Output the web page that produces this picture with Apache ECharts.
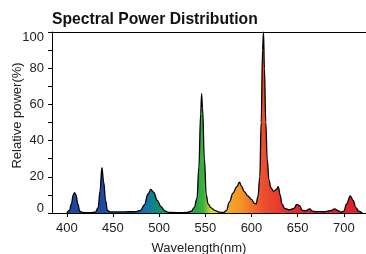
<!DOCTYPE html>
<html>
<head>
<meta charset="utf-8">
<script src="https://cdn.jsdelivr.net/npm/echarts@6/dist/echarts.min.js"></script>
<style>
  html, body { margin: 0; padding: 0; background: #fff; }
  #chart { width: 366px; height: 254px; }
</style>
</head>
<body>
<div id="chart"></div>
<script>
// wavelength (nm) and relative power (%)
var wavelengths = [
  400, 403, 405, 407, 408.5, 410, 412, 414, 417, 425, 431, 434, 436, 438, 440, 442, 444, 447,
  460, 475, 480, 484, 488, 491, 494, 498, 502, 506, 510, 520, 530, 535,
  538, 541, 543, 545, 546, 547, 549, 551, 553, 556, 560, 565, 570,
  573, 576, 580, 584, 587, 589, 592, 596, 600, 603, 605,
  607, 609, 610.5, 612, 613, 614, 615.5, 617, 619, 621, 624, 627, 629, 631, 633, 636,
  641, 646, 649, 652, 655, 659, 663, 666, 670, 680, 687, 690, 693, 697,
  700, 703, 707, 710, 713, 716, 720
];
var power = [
  0.2, 1.5, 5, 10, 11.3, 10, 5, 1, 0.3, 0.2, 0.5, 3, 12, 25, 17, 7, 1.5, 0.6,
  0.6, 0.8, 1.5, 4.5, 10.5, 13, 11.5, 7, 3.5, 1.2, 0.4, 0.2, 0.3, 1,
  3, 8, 25, 55, 66, 58, 30, 10, 5, 3, 1.5, 0.5, 0.3,
  1.5, 6, 11, 14.5, 17, 15, 12, 9.5, 7.5, 5.5, 5,
  9, 20, 50, 90, 100, 80, 50, 30, 18, 14, 12, 13, 14.5, 10, 5, 2.5,
  1.8, 2.5, 4.8, 4, 1.5, 1.2, 2.3, 1, 0.8, 0.8, 1.5, 2.3, 1.5, 0.5,
  1, 5, 9.5, 7, 3, 1, 0
];
var xTicks = [400, 450, 500, 550, 600, 650, 700];

// spectrum colours by wavelength
var specNm = [400, 445, 470, 485, 492, 500, 515, 540, 548, 553, 558, 565, 575, 590, 603, 612, 625, 640, 660, 720];
var specColor = ['#1b48a0', '#1b4da3', '#1760a8', '#1670b0', '#0f8090', '#10906a', '#18a050', '#22aa48', '#40b040',
  '#a0c838', '#e8d828', '#f0c020', '#f5a828', '#f49028', '#f06a2c', '#ec5030', '#e8402e', '#e42e30', '#e0242e', '#dc2030'];

var wMin = wavelengths[0], wMax = wavelengths[wavelengths.length - 1];
var stops = specNm.map(function (w, i) {
  return { offset: (w - wMin) / (wMax - wMin), color: specColor[i] };
});

var font = 'Liberation Sans, Arial, Helvetica, sans-serif';
var chart = echarts.init(document.getElementById('chart'));
chart.setOption({
  animation: false,
  title: {
    text: 'Spectral Power Distribution',
    left: 47,
    top: 7,
    textStyle: { fontFamily: font, fontSize: 15.7, fontWeight: 'bold', color: '#111' }
  },
  grid: { left: 52, top: 32, right: 0, bottom: 41, outerBoundsMode: 'none', containLabel: false },
  xAxis: [
    {
      type: 'value',
      min: 384,
      max: 724,
      name: 'Wavelength(nm)',
      nameLocation: 'middle',
      nameGap: 29,
      nameTextStyle: { fontFamily: font, fontSize: 13, color: '#222', padding: [0, 20, 0, 0] },
      axisLine: { lineStyle: { color: '#000', width: 1 } },
      axisTick: { show: true, length: 4, inside: false, customValues: xTicks, lineStyle: { color: '#000' } },
      axisLabel: { customValues: xTicks, fontFamily: font, fontSize: 13, color: '#222', margin: 9 },
      splitLine: { show: false }
    },
    {
      type: 'value',
      position: 'top',
      min: 384,
      max: 724,
      axisLine: { show: true, lineStyle: { color: '#000', width: 1 } },
      axisTick: { show: false },
      axisLabel: { show: false },
      splitLine: { show: false }
    }
  ],
  yAxis: {
    type: 'value',
    min: 0,
    max: 100,
    interval: 10,
    name: 'Relative power(%)',
    nameLocation: 'middle',
    nameGap: 28,
    nameMoveOverlap: false,
    nameTextStyle: { fontFamily: font, fontSize: 13, color: '#222', padding: [0, 0, 0, 14] },
    axisLine: { show: true, lineStyle: { color: '#000', width: 1 } },
    axisTick: { show: true, length: 4, inside: false, lineStyle: { color: '#000' } },
    axisLabel: {
      fontFamily: font, fontSize: 13, color: '#222', margin: 8,
      formatter: function (v) {
        if (v % 20 !== 0) return '';
        if (v === 0) return '{lo|0}';
        if (v === 100) return '{hi|100}';
        return String(v);
      },
      rich: {
        lo: { fontFamily: font, fontSize: 13, color: '#222', padding: [0, 0, 9, 0] },
        hi: { fontFamily: font, fontSize: 13, color: '#222', padding: [11, 0, 0, 0] }
      }
    },
    splitLine: { show: false }
  },
  series: [{
    type: 'line',
    data: wavelengths.map(function (w, i) { return [w, power[i]]; }),
    smooth: 0.4,
    smoothMonotone: 'x',
    showSymbol: false,
    lineStyle: { color: '#000', width: 1.3 },
    areaStyle: {
      opacity: 1,
      color: new echarts.graphic.LinearGradient(0, 0, 1, 0, stops)
    }
  }]
});
</script>
</body>
</html>
